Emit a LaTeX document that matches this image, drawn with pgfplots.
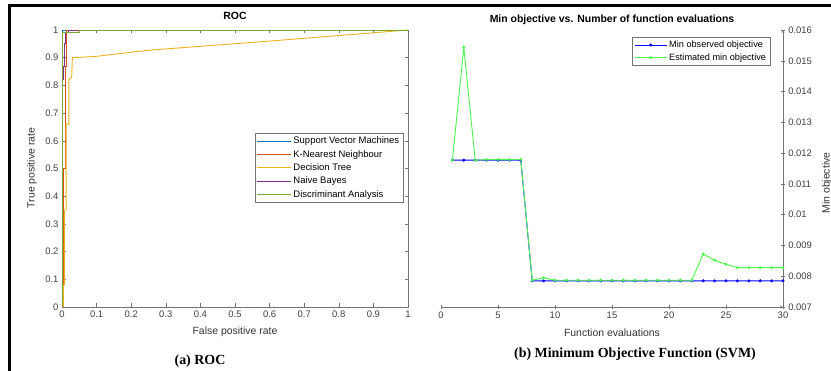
\documentclass[border=0pt]{standalone}
\usepackage{pgfplots}
\pgfplotsset{compat=1.18}
\usepackage{fontspec}
\setmainfont{Liberation Sans}
\newfontfamily\capfont{Liberation Serif}
\definecolor{mblue}{rgb}{0,0.447,0.741}
\definecolor{morange}{rgb}{0.85,0.325,0.098}
\definecolor{myellow}{rgb}{0.929,0.694,0.125}
\definecolor{mpurple}{rgb}{0.494,0.184,0.556}
\definecolor{mgreen}{rgb}{0.466,0.674,0.188}
\definecolor{axgray}{rgb}{0.45,0.45,0.45}
\definecolor{lgreen}{rgb}{0.3,0.97,0.3}
\pgfplotsset{
  common/.style={
    scale only axis,
    anchor=south west,
    tick align=inside,
    major tick length=3.5bp,
    axis line style={axgray,-},
    every tick/.style={axgray},
    tick label style={font=\fontsize{9.5}{11}\selectfont, text=black!75},
    /pgf/number format/assume math mode=true,
    legend style={draw=axgray, fill=white, inner sep=1.8bp},
    legend cell align=left,
  }
}
\begin{document}
\begin{tikzpicture}
\useasboundingbox (0bp,0bp) rectangle (831bp,371bp);
\draw[line width=3bp] (9.5bp,0bp) -- (9.5bp,365.7bp) -- (832bp,365.7bp);
% ---------------- ROC ----------------
\begin{axis}[common,
  at={(62bp,64bp)}, width=346bp, height=277bp,
  xmin=0, xmax=1, ymin=0, ymax=1,
  xtick={0,0.1,0.2,0.3,0.4,0.5,0.6,0.7,0.8,0.9,1},
  ytick={0,0.1,0.2,0.3,0.4,0.5,0.6,0.7,0.8,0.9,1},
  xticklabel style={/pgf/number format/fixed},
  yticklabel style={/pgf/number format/fixed},
  legend style={at={(0.986,0.628)}, anchor=north east, font=\fontsize{9.5}{11}\selectfont, row sep=1bp},
  legend image code/.code={\draw[#1] (0bp,0bp) -- (34bp,0bp);},
]
\addplot[mblue, line width=0.9bp] coordinates {(0,0) (0,1) (0.01,1) (1,1)};
\addlegendentry{Support Vector Machines}
\addplot[morange, line width=0.9bp] coordinates {(0,0) (0,0.08) (0.005,0.08) (0.005,0.5) (0.009,0.5) (0.009,0.87) (0.013,0.87) (0.013,1) (1,1)};
\addlegendentry{K-Nearest Neighbour}
\addplot[myellow, line width=0.9bp] coordinates {(0,0) (0.004,0) (0.004,0.08) (0.007,0.08) (0.007,0.35) (0.012,0.35) (0.012,0.66) (0.02,0.66) (0.02,0.82) (0.028,0.83) (0.03,0.9) (0.1,0.905) (0.25,0.927) (0.6,0.96) (1,1)};
\addlegendentry{Decision Tree}
\addplot[mpurple, line width=0.9bp] coordinates {(0,0) (0,0.82) (0.004,0.82) (0.004,0.87) (0.008,0.87) (0.008,0.95) (0.011,0.95) (0.011,0.99) (0.02,0.99) (0.02,1) (0.05,1) (1,1)};
\addlegendentry{Naive Bayes}
\addplot[mgreen, line width=0.9bp] coordinates {(0,0) (0,0.99) (0.05,0.99) (0.05,1) (1,1)};
\addlegendentry{Discriminant Analysis}
\end{axis}
% ---------------- Min objective ----------------
\begin{axis}[common,
  at={(441bp,64bp)}, width=342bp, height=277bp,
  xmin=0, xmax=30, ymin=0.007, ymax=0.016,
  axis x line=bottom, axis y line=right,
  xtick={0,5,10,15,20,25,30},
  ytick={0.007,0.008,0.009,0.01,0.011,0.012,0.013,0.014,0.015,0.016},
  scaled y ticks=false,
  yticklabel style={/pgf/number format/fixed, /pgf/number format/precision=3},
  legend style={at={(0.962,0.975)}, anchor=north east, font=\fontsize{9.2}{10.5}\selectfont, row sep=0.6bp},
  legend image code/.code={\draw[#1, mark repeat=2, mark phase=2] plot coordinates {(0bp,0bp) (16bp,0bp) (32bp,0bp)};},
]
\addplot[blue, line width=0.9bp, mark=*, mark size=1bp] coordinates {
(1,0.01177) (2,0.01177) (3,0.01177) (4,0.01177) (5,0.01177) (6,0.01177) (7,0.01177)
(8,0.00785) (9,0.00785) (10,0.00785) (11,0.00785) (12,0.00785) (13,0.00785) (14,0.00785)
(15,0.00785) (16,0.00785) (17,0.00785) (18,0.00785) (19,0.00785) (20,0.00785) (21,0.00785)
(22,0.00785) (23,0.00785) (24,0.00785) (25,0.00785) (26,0.00785) (27,0.00785) (28,0.00785)
(29,0.00785) (30,0.00785)};
\addlegendentry{Min observed objective}
\addplot[lgreen, line width=0.9bp, mark=*, mark size=1bp] coordinates {
(1,0.01177) (2,0.01543) (3,0.01177) (4,0.01179) (5,0.01179) (6,0.01179) (7,0.01179)
(8,0.00787) (9,0.00795) (10,0.00787) (11,0.00787) (12,0.00787) (13,0.00787) (14,0.00787)
(15,0.00787) (16,0.00787) (17,0.00787) (18,0.00787) (19,0.00787) (20,0.00787) (21,0.00787)
(22,0.00787) (23,0.00872) (24,0.00852) (25,0.00839) (26,0.00828) (27,0.00828) (28,0.00828)
(29,0.00828) (30,0.00828)};
\addlegendentry{Estimated min objective}
\end{axis}
% labels and titles
\node[font=\bfseries\fontsize{10.5}{12}\selectfont] at (235bp,355bp) {ROC};
\node[font=\bfseries\fontsize{10.5}{12}\selectfont] at (612bp,351bp) {Min objective vs. Number of function evaluations};
\node[font=\fontsize{10.5}{12}\selectfont, text=black!80] at (235bp,39bp) {False positive rate};
\node[font=\fontsize{10.5}{12}\selectfont, text=black!80] at (612bp,38bp) {Function evaluations};
\node[rotate=90, font=\fontsize{10.5}{12}\selectfont, text=black!80] at (32bp,203bp) {True positive rate};
\node[rotate=90, font=\fontsize{10.5}{12}\selectfont, text=black!80] at (827bp,188bp) {Min objective};
\node[font=\capfont\bfseries\fontsize{14}{16}\selectfont] at (200bp,10bp) {(a) ROC};
\node[font=\capfont\bfseries\fontsize{14}{16}\selectfont] at (635bp,17bp) {(b) Minimum Objective Function (SVM)};
\end{tikzpicture}
\end{document}
